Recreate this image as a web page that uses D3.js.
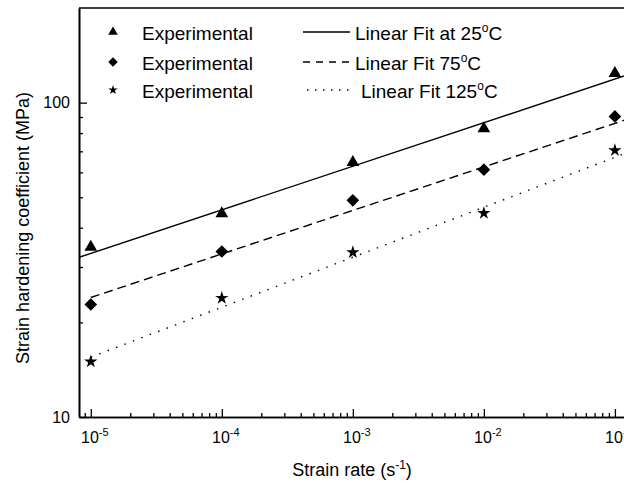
<!DOCTYPE html>
<html>
<head>
<meta charset="utf-8">
<script src="https://cdn.jsdelivr.net/npm/d3@7"></script>
<style>
  body { margin: 0; background: #fff; }
  svg text { font-family: "Liberation Sans", Arial, sans-serif; fill: #000; }
  .axis path, .axis line { stroke: #000; }
</style>
</head>
<body>
<div id="chart"></div>
<script>
// strain rate (s^-1)
var strainRates = [1e-5, 1e-4, 1e-3, 1e-2, 1e-1];
// strain hardening coefficient (MPa)
var exp25 = [34.7, 44.4, 64.6, 82.7, 124];
var exp75 = [22.8, 33.6, 48.9, 61.2, 90.4];
var exp125 = [15.0, 23.9, 33.4, 44.5, 70.5];
// fitted lines, end points
var fit25 = [[8.13e-6, 32.2], [0.126, 122.7]];
var fit75 = [[1e-5, 24.0], [0.126, 88.7]];
var fit125 = [[1e-5, 15.5], [0.126, 69.5]];
var xMajor = [1e-5, 1e-4, 1e-3, 1e-2, 1e-1];
var xMajorExp = ["-5", "-4", "-3", "-2", "-1"];
var yMajor = [10, 100];

///////////////////////////////////////////////////////////////////////////
//////////////////////////// Set up the SVG ///////////////////////////////
///////////////////////////////////////////////////////////////////////////

var width = 624, height = 484;
var plotLeft = 79, plotTop = 8, plotBottom = 417;

var svg = d3.select("#chart").append("svg")
	.attr("width", width)
	.attr("height", height);

var x = d3.scaleLog()
	.domain([Math.pow(10, -5.09), Math.pow(10, -0.9)])
	.range([plotLeft, 628]);

var y = d3.scaleLog()
	.domain([10, 200])
	.range([plotBottom, plotTop]);

//minor tick values
var xMinor = [], yMinor = [];
[-6, -5, -4, -3, -2, -1].forEach(function(e) {
	for (var k = 2; k <= 9; k++) {
		var v = k * Math.pow(10, e);
		if (v > x.domain()[0] && v < x.domain()[1]) xMinor.push(v);
	}
});
[1, 2].forEach(function(e) {
	for (var k = 2; k <= 9; k++) {
		var v = k * Math.pow(10, e);
		if (v < 200) yMinor.push(v);
	}
});

///////////////////////////////////////////////////////////////////////////
/////////////////////////////// Axes //////////////////////////////////////
///////////////////////////////////////////////////////////////////////////

function styleAxis(g) {
	g.select(".domain").attr("stroke-width", 1.6);
	g.selectAll(".tick line").attr("stroke-width", 1.3);
	g.selectAll(".tick text").remove();
}

svg.append("g").attr("class", "axis")
	.attr("transform", "translate(0," + plotBottom + ")")
	.call(d3.axisBottom(x).tickValues(xMajor).tickSizeInner(-8).tickSizeOuter(0))
	.call(styleAxis);
svg.append("g").attr("class", "axis")
	.attr("transform", "translate(0," + plotBottom + ")")
	.call(d3.axisBottom(x).tickValues(xMinor).tickSizeInner(-4).tickSizeOuter(0))
	.call(styleAxis);

svg.append("g").attr("class", "axis")
	.attr("transform", "translate(" + plotLeft + ",0)")
	.call(d3.axisLeft(y).tickValues(yMajor).tickSizeInner(-8).tickSizeOuter(0))
	.call(styleAxis);
svg.append("g").attr("class", "axis")
	.attr("transform", "translate(" + plotLeft + ",0)")
	.call(d3.axisLeft(y).tickValues(yMinor).tickSizeInner(-4).tickSizeOuter(0))
	.call(styleAxis);

//top frame line
svg.append("line")
	.attr("x1", plotLeft).attr("x2", width)
	.attr("y1", plotTop).attr("y2", plotTop)
	.attr("stroke", "#000").attr("stroke-width", 1.6);

//tick labels
var xl = svg.selectAll(".x-label")
	.data(xMajor)
	.enter().append("text")
	.attr("class", "x-label")
	.attr("x", function(d) { return x(d) + 4; })
	.attr("y", 443)
	.attr("text-anchor", "middle")
	.style("font-size", "16px");
xl.append("tspan").text("10");
xl.append("tspan")
	.attr("dy", "-7")
	.style("font-size", "11px")
	.text(function(d, i) { return xMajorExp[i]; });

svg.selectAll(".y-label")
	.data(yMajor)
	.enter().append("text")
	.attr("class", "y-label")
	.attr("x", 70)
	.attr("y", function(d) { return y(d); })
	.attr("dy", "0.36em")
	.attr("text-anchor", "end")
	.style("font-size", "16px")
	.text(function(d) { return d; });

//axis titles
var xt = svg.append("text")
	.attr("x", 352)
	.attr("y", 476)
	.attr("text-anchor", "middle")
	.style("font-size", "18px");
xt.append("tspan").text("Strain rate (s");
xt.append("tspan").attr("dy", -7).style("font-size", "12px").text("-1");
xt.append("tspan").attr("dy", 7).text(")");

svg.append("text")
	.attr("transform", "translate(29,228) rotate(-90)")
	.attr("text-anchor", "middle")
	.style("font-size", "18px")
	.text("Strain hardening coefficient (MPa)");

///////////////////////////////////////////////////////////////////////////
//////////////////////////// Lines and points /////////////////////////////
///////////////////////////////////////////////////////////////////////////

svg.append("clipPath").attr("id", "plot-clip")
	.append("rect")
	.attr("x", plotLeft).attr("y", plotTop)
	.attr("width", width - plotLeft).attr("height", plotBottom - plotTop);

var plot = svg.append("g").attr("clip-path", "url(#plot-clip)");

var series = [
	{values: exp25, fit: fit25, symbol: d3.symbolTriangle, size: 70, rotate: 0, dash: null},
	{values: exp75, fit: fit75, symbol: d3.symbolSquare, size: 80, rotate: 45, dash: "9,5"},
	{values: exp125, fit: fit125, symbol: d3.symbolStar, size: 55, rotate: 0, dash: "1.5,7.5"}
];

var line = d3.line()
	.x(function(d) { return x(d[0]); })
	.y(function(d) { return y(d[1]); });

series.forEach(function(s) {
	plot.append("path")
		.attr("d", line(s.fit))
		.attr("fill", "none")
		.attr("stroke", "#000")
		.attr("stroke-width", 1.4)
		.attr("stroke-dasharray", s.dash);

	plot.selectAll(null)
		.data(s.values)
		.enter().append("path")
		.attr("transform", function(d, i) {
			return "translate(" + x(strainRates[i]) + "," + y(d) + ") rotate(" + s.rotate + ")";
		})
		.attr("d", d3.symbol().type(s.symbol).size(s.size))
		.attr("fill", "#000");
});

///////////////////////////////////////////////////////////////////////////
/////////////////////////////// Legend ////////////////////////////////////
///////////////////////////////////////////////////////////////////////////

var legendRows = [
	{symbol: d3.symbolTriangle, size: 40, rotate: 0, dash: null, x1: 303, x2: 350, tx: 355, label: "Linear Fit at 25", y: 32},
	{symbol: d3.symbolSquare, size: 45, rotate: 45, dash: "7,6", x1: 303, x2: 353, tx: 355, label: "Linear Fit 75", y: 62},
	{symbol: d3.symbolStar, size: 28, rotate: 0, dash: "1.5,6.5", x1: 307, x2: 355, tx: 361, label: "Linear Fit 125", y: 90}
];

legendRows.forEach(function(r) {
	svg.append("path")
		.attr("transform", "translate(113," + r.y + ") rotate(" + r.rotate + ")")
		.attr("d", d3.symbol().type(r.symbol).size(r.size))
		.attr("fill", "#000");
	svg.append("text")
		.attr("x", 142)
		.attr("y", r.y + 8)
		.style("font-size", "19px")
		.text("Experimental");
	svg.append("line")
		.attr("x1", r.x1).attr("x2", r.x2)
		.attr("y1", r.y).attr("y2", r.y)
		.attr("stroke", "#000")
		.attr("stroke-width", 1.3)
		.attr("stroke-dasharray", r.dash);
	var t = svg.append("text")
		.attr("x", r.tx)
		.attr("y", r.y + 8)
		.style("font-size", "19px");
	t.append("tspan").text(r.label);
	t.append("tspan").attr("dy", -8).style("font-size", "12px").text("o");
	t.append("tspan").attr("dy", 8).text("C");
});
</script>
</body>
</html>
